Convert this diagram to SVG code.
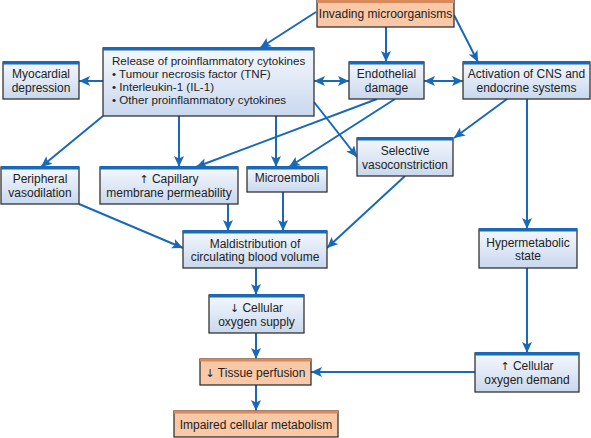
<svg xmlns="http://www.w3.org/2000/svg" width="591" height="438" viewBox="0 0 591 438">
<style>
.box{fill:url(#bg);stroke:#333;stroke-width:1.3}
.obox{fill:#f9c8a6;stroke:#333;stroke-width:1.3}
.bar{fill:#1a68b8}
.obar{fill:#d98a5a}
text{font-family:"Liberation Sans",Arial,sans-serif;font-size:12px;fill:#222}
.c{text-anchor:middle}
.ar{font-family:"DejaVu Sans",sans-serif;font-size:11px}
.ln{fill:none;stroke:#1a68b8;stroke-width:2;marker-end:url(#ah)}
.dbl{marker-start:url(#ah)}
</style>
<defs>
<linearGradient id="bg" x1="0" y1="0" x2="0" y2="1">
<stop offset="0" stop-color="#f5f8fd"/>
<stop offset="1" stop-color="#c9d8ee"/>
</linearGradient>
<marker id="ah" markerUnits="userSpaceOnUse" markerWidth="11" markerHeight="10" refX="11" refY="5" orient="auto-start-reverse" viewBox="0 0 11 10">
<path d="M0,0 L11,5 L0,10 L2.5,5 z" fill="#1a68b8"/>
</marker>
</defs>
<rect width="591" height="438" fill="#fff"/>

<g id="connectors">
<path class="ln" d="M316,12 L260,48"/>
<path class="ln" d="M386,27 L386,62"/>
<path class="ln" d="M454,15 L478,62"/>
<path class="ln" d="M103,81 L79,81"/>
<path class="ln dbl" d="M314,81 L349,81"/>
<path class="ln dbl" d="M424,81 L463,81"/>
<path class="ln" d="M103,116 L41,167"/>
<path class="ln" d="M179,116 L179,167"/>
<path class="ln" d="M276,116 L276,167"/>
<path class="ln" d="M314,102 L357,157"/>
<path class="ln" d="M377,99 L196,167"/>
<path class="ln" d="M395,99 L289,167"/>
<path class="ln" d="M507,99 L454,138"/>
<path class="ln" d="M527,99 L527,229"/>
<path class="ln" d="M79,204 L183,248"/>
<path class="ln" d="M228,204 L228,231"/>
<path class="ln" d="M283,192 L283,231"/>
<path class="ln" d="M405,176 L327,248"/>
<path class="ln" d="M256,268 L256,295"/>
<path class="ln" d="M256,333 L256,359"/>
<path class="ln" d="M256,385 L256,411"/>
<path class="ln" d="M527,268 L527,353"/>
<path class="ln" d="M475,372 L311,372"/>
</g>

<g id="invading">
<rect class="obox" x="317" y="0" width="137" height="27"/>
<rect class="obar" x="317" y="0" width="137" height="3"/>
<text class="c" x="385.5" y="17.5">Invading microorganisms</text>
</g>

<g id="release">
<rect class="box" x="103" y="48" width="211" height="68"/>
<rect class="bar" x="103" y="47" width="211" height="3.5"/>
<text x="112" y="65" style="font-size:11.6px">Release of proinflammatory cytokines</text>
<text x="112" y="78" style="font-size:11.6px">• Tumour necrosis factor (TNF)</text>
<text x="112" y="91" style="font-size:11.6px">• Interleukin-1 (IL-1)</text>
<text x="112" y="104" style="font-size:11.6px">• Other proinflammatory cytokines</text>
</g>

<g id="myocardial">
<rect class="box" x="3" y="62" width="76" height="37"/>
<rect class="bar" x="3" y="61" width="76" height="3.5"/>
<text class="c" x="41" y="77.5">Myocardial</text>
<text class="c" x="41" y="91.5">depression</text>
</g>

<g id="endothelial">
<rect class="box" x="349" y="62" width="75" height="37"/>
<rect class="bar" x="349" y="61" width="75" height="3.5"/>
<text class="c" x="386.5" y="77.5">Endothelial</text>
<text class="c" x="386.5" y="91.5">damage</text>
</g>

<g id="activation">
<rect class="box" x="463" y="62" width="127" height="37"/>
<rect class="bar" x="463" y="61" width="127" height="3.5"/>
<text class="c" x="526.5" y="77.5">Activation of CNS and</text>
<text class="c" x="526.5" y="91.5">endocrine systems</text>
</g>

<g id="peripheral">
<rect class="box" x="1" y="167" width="78" height="37"/>
<rect class="bar" x="1" y="166" width="78" height="3.5"/>
<text class="c" x="40" y="183">Peripheral</text>
<text class="c" x="40" y="196.5">vasodilation</text>
</g>

<g id="capillary">
<rect class="box" x="100" y="167" width="138" height="37"/>
<rect class="bar" x="100" y="166" width="138" height="3.5"/>
<text class="c" x="169" y="183"><tspan class="ar">↑</tspan> Capillary</text>
<text class="c" x="169" y="196.5">membrane permeability</text>
</g>

<g id="microemboli">
<rect class="box" x="247" y="167" width="80" height="25"/>
<rect class="bar" x="247" y="166" width="80" height="3.5"/>
<text class="c" x="287" y="182">Microemboli</text>
</g>

<g id="selective">
<rect class="box" x="357" y="138" width="96" height="38"/>
<rect class="bar" x="357" y="137" width="96" height="3.5"/>
<text class="c" x="405" y="155">Selective</text>
<text class="c" x="405" y="168.5">vasoconstriction</text>
</g>

<g id="maldistribution">
<rect class="box" x="183" y="231" width="144" height="37"/>
<rect class="bar" x="183" y="230" width="144" height="3.5"/>
<text class="c" x="255" y="247.5">Maldistribution of</text>
<text class="c" x="255" y="261">circulating blood volume</text>
</g>

<g id="hypermetabolic">
<rect class="box" x="479" y="229" width="98" height="39"/>
<rect class="bar" x="479" y="228" width="98" height="3.5"/>
<text class="c" x="528" y="247">Hypermetabolic</text>
<text class="c" x="528" y="260">state</text>
</g>

<g id="supply">
<rect class="box" x="209" y="295" width="95" height="38"/>
<rect class="bar" x="209" y="294" width="95" height="3.5"/>
<text class="c" x="256.5" y="311.5"><tspan class="ar">↓</tspan> Cellular</text>
<text class="c" x="256.5" y="326">oxygen supply</text>
</g>

<g id="tissue">
<rect class="obox" x="200" y="359" width="111" height="26"/>
<rect class="obar" x="200" y="358.5" width="111" height="3"/>
<text class="c" x="255.5" y="376.5"><tspan class="ar">↓</tspan> Tissue perfusion</text>
</g>

<g id="impaired">
<rect class="obox" x="174" y="411" width="164" height="26"/>
<rect class="obar" x="174" y="410.5" width="164" height="3"/>
<text class="c" x="256" y="428.5">Impaired cellular metabolism</text>
</g>

<g id="demand">
<rect class="box" x="475" y="353" width="104" height="39"/>
<rect class="bar" x="475" y="352" width="104" height="3.5"/>
<text class="c" x="527" y="370"><tspan class="ar">↑</tspan> Cellular</text>
<text class="c" x="527" y="384">oxygen demand</text>
</g>
</svg>
